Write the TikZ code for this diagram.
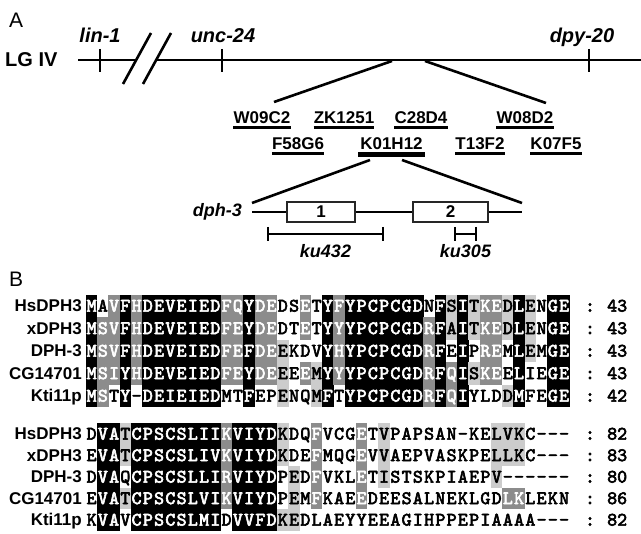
\documentclass[tikz,border=0pt]{standalone}
\usepackage{fontspec}
\setmainfont{Liberation Sans}
\newfontfamily\resfont[FakeBold=3.2]{lmmono10-regular.otf}
\usepackage{xstring}

\definecolor{shadeD}{gray}{0.55}
\definecolor{shadeL}{gray}{0.80}

\tikzset{
  chrom/.style={line width=2.6pt},
  zoomline/.style={line width=2.6pt},
  underline/.style={line width=2.4pt},
  panel label/.style={font=\fontsize{21}{24}\selectfont, inner sep=0pt, anchor=base west},
  chrom label/.style={font=\fontsize{20}{23}\selectfont\bfseries, inner sep=0pt, anchor=base west},
  gene name/.style={font=\fontsize{20}{23}\selectfont\bfseries\itshape, inner sep=0pt, anchor=base},
  cosmid/.style={font=\fontsize{17}{20}\selectfont\bfseries, inner sep=0pt, anchor=base},
  exon/.style={draw=black!85, line width=1.2pt, fill=white, inner sep=0pt,
    minimum height=20pt, font=\fontsize{17}{20}\selectfont\bfseries},
  delbar/.style={line width=1.5pt},
  seq name/.style={font=\fontsize{17}{20}\selectfont\bfseries, inner sep=0pt, anchor=base east},
  residue/.style={font={\resfont\fontsize{19}{22}\selectfont}, inner sep=0pt, anchor=base},
}

% one line of the alignment: y, key, name, residues, shading (k d l w), count
\newcommand{\alnrow}[6]{%
  \node[seq name] (#2name) at (82,#1+6) {#3};
  \foreach \i in {1,...,43}{%
    \StrChar{#4}{\i}[\res]%
    \StrChar{#5}{\i}[\shd]%
    \pgfmathsetmacro{\xl}{86+(\i-1)*11.25}%
    \pgfmathsetmacro{\xc}{\xl+5.625}%
    \def\txtcol{black}%
    \if k\shd \fill[black] (\xl-0.2,#1-\cellh-0.2) rectangle (\xl+11.45,#1+\cellh+0.2); \def\txtcol{white}\fi
    \if d\shd \fill[shadeD] (\xl-0.2,#1-\cellh-0.2) rectangle (\xl+11.45,#1+\cellh+0.2); \def\txtcol{white}\fi
    \if l\shd \fill[shadeL] (\xl-0.2,#1-\cellh-0.2) rectangle (\xl+11.45,#1+\cellh+0.2); \fi
    \node[residue, text=\txtcol] (#2c\i) at (\xc,#1+5.6) {\res};
  }
  \node[residue] (#2colon) at (590,#1+5.6) {:};
  \node[residue, anchor=base west] (#2n) at (607,#1+5.6) {#6};
}

\begin{document}
\begin{tikzpicture}[x=1pt,y=-1pt]
  \useasboundingbox (0,0) rectangle (641,534);

  % ---- panel A: map
  \node[panel label] (LabelA) at (9,28) {A};
  \node[chrom label] (LGIV) at (5,67) {LG IV};

  \coordinate (ChromLeft) at (78,60);
  \coordinate (BreakLeft) at (136,60);
  \coordinate (BreakRight) at (156,60);
  \coordinate (ChromRight) at (641,60);
  \draw[chrom] (ChromLeft) -- (BreakLeft);
  \draw[chrom] (BreakRight) -- (ChromRight);
  \draw[chrom] (123,84) -- (151,33);
  \draw[chrom] (143,84) -- (171,33);

  \draw[chrom] (100,49) -- (100,72);
  \draw[chrom] (222,49) -- (222,72);
  \draw[chrom] (589,49) -- (589,72);
  \node[gene name] (lin1) at (100,43) {lin-1};
  \node[gene name] (unc24) at (223,43) {unc-24};
  \node[gene name] (dpy20) at (582,43) {dpy-20};

  % cosmids
  \node[cosmid] (W09C2) at (262,124) {W09C2};
  \node[cosmid] (ZK1251) at (344,124) {ZK1251};
  \node[cosmid] (C28D4) at (421,124) {C28D4};
  \node[cosmid] (W08D2) at (525,124) {W08D2};
  \node[cosmid] (F58G6) at (298,150) {F58G6};
  \node[cosmid] (K01H12) at (391.5,150) {K01H12};
  \node[cosmid] (T13F2) at (480,150) {T13F2};
  \node[cosmid] (K07F5) at (556,150) {K07F5};
  \foreach \cos in {W09C2,ZK1251,C28D4,W08D2,F58G6,T13F2,K07F5}
    \draw[underline] ([yshift=-3.5pt]\cos.base west) -- ([yshift=-3.5pt]\cos.base east);
  \draw[line width=5pt] ([xshift=-2pt,yshift=-5pt]K01H12.base west) -- ([xshift=2pt,yshift=-5pt]K01H12.base east);

  \coordinate (ZoomOneL) at (392,61);
  \coordinate (ZoomOneR) at (425,61);
  \coordinate (ZoomOneLB) at (274,102);
  \coordinate (ZoomOneRB) at (546,103);
  \draw[zoomline] (ZoomOneL) -- (ZoomOneLB);
  \draw[zoomline] (ZoomOneR) -- (ZoomOneRB);

  % gene
  \coordinate (GeneLeft) at (252,212);
  \coordinate (GeneRight) at (522,212);
  \coordinate (ZoomTwoL) at (370,160);
  \coordinate (ZoomTwoR) at (402,160);
  \draw[zoomline] (ZoomTwoL) -- (252,203);
  \draw[zoomline] (ZoomTwoR) -- (522,203);
  \node[gene name, anchor=base east, font=\fontsize{18}{21}\selectfont\bfseries\itshape] (dph3) at (242,217) {dph-3};
  \draw[chrom] (GeneLeft) -- (GeneRight);
  \node[exon, minimum width=68pt] (ExonOne) at (321,212) {1};
  \node[exon, minimum width=75pt] (ExonTwo) at (450.5,212) {2};

  \coordinate (KuAL) at (268,234);
  \coordinate (KuAR) at (383,234);
  \coordinate (KuBL) at (455,234);
  \coordinate (KuBR) at (476,234);
  \draw[delbar] (KuAL) -- (KuAR);
  \draw[delbar] ([yshift=7pt]KuAL) -- ([yshift=-7pt]KuAL);
  \draw[delbar] ([yshift=7pt]KuAR) -- ([yshift=-7pt]KuAR);
  \draw[delbar] (KuBL) -- (KuBR);
  \draw[delbar] ([yshift=7pt]KuBL) -- ([yshift=-7pt]KuBL);
  \draw[delbar] ([yshift=7pt]KuBR) -- ([yshift=-7pt]KuBR);
  \node[gene name, font=\fontsize{18}{21}\selectfont\bfseries\itshape] (ku432) at (325.5,258) {ku432};
  \node[gene name, font=\fontsize{18}{21}\selectfont\bfseries\itshape] (ku305) at (465.5,258) {ku305};

  % ---- panel B: alignment
  \node[panel label] (LabelB) at (9,287) {B};

  \def\cellh{11.25}
  \alnrow{306}{ra}{HsDPH3}{MAVFHDEVEIEDFQYDEDSETYFYPCPCGDNFSITKEDLENGE}{kwdkdkkkkkkkddkddwwdwkdkkkkkkkwklklddlklwkk}{43}
  \alnrow{328.5}{rb}{xDPH3}{MSVFHDEVEIEDFEYDEDTETYYYPCPCGDRFAITKEDLENGE}{kddkdkkkkkkkddkddwwdwkdkkkkkkkdklklddlklwkk}{43}
  \alnrow{351}{rc}{DPH-3}{MSVFHDEVEIEDFEFDEEKDVYHYPCPCGDRFEIPREMLEMGE}{kddkdkkkkkkkddkddlwwwkdkkkkkkkdkwkwddwklwkk}{43}
  \alnrow{373.5}{rd}{CG14701}{MSIYHDEVEIEDFEYDEEEEMYYYPCPCGDRFQISKEELIEGE}{kddkdkkkkkkkddkddlwdlkdkkkkkkkdkdklddwkwwkk}{43}
  \alnrow{396}{re}{Kti11p}{MSTY-DEIEIEDMTFEPENQMFTYPCPCGDRFQIYLDDMFEGE}{kdwkwkkkkkkkwwkwwlwwlkwkkkkkkkdkdkwwwlkwwkk}{42}

  \def\cellh{10.75}
  \alnrow{434}{sa}{HsDPH3}{DVATCPSCSLIIKVIYDKDQFVCGETVPAPSAN-KELVKC---}{wkklkkkkkkkkdkkkklwwdwwwdwlwwwwwwwwwlllwwww}{82}
  \alnrow{455.5}{sb}{xDPH3}{EVATCPSCSLIVKVIYDKDEFMQGEVVAEPVASKPELLKC---}{wkklkkkkkkkkdkkkklwwdwwwdwlwwwwwwwwwlllwwww}{83}
  \alnrow{477}{sc}{DPH-3}{DVAQCPSCSLLIRVIYDPEDFVKLETISTSKPIAEPV------}{wkkwkkkkkkkkdkkkkwlwdwwwdwlwwwwwwwwwlwwwwww}{80}
  \alnrow{498.5}{sd}{CG14701}{EVATCPSCSLVIKVIYDPEMFKAEEDEESALNEKLGDLKLEKN}{wkklkkkkkkkkdkkkkwlwdwwwdwwwwwwwwwwwwddwwww}{86}
  \alnrow{520}{se}{Kti11p}{KVAVCPSCSLMIDVVFDKEDLAEYYEEAGIHPPEPIAAAA---}{wkkwkkkkkkkkwkkkkllwwwwwwwwwwwwwwwwwwwwwwww}{82}
\end{tikzpicture}
\end{document}
